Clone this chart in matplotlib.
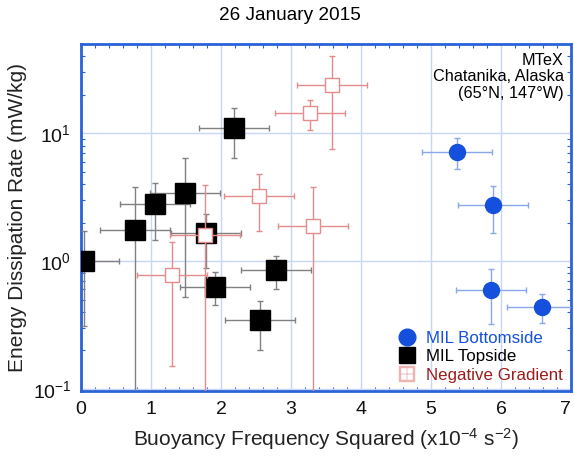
import numpy as np
import matplotlib.pyplot as plt
from matplotlib.lines import Line2D
from matplotlib.ticker import MultipleLocator, LogLocator, NullFormatter

plt.rcParams['font.family'] = ['Liberation Sans', 'DejaVu Sans']
plt.rcParams['mathtext.fontset'] = 'custom'
plt.rcParams['mathtext.rm'] = 'Liberation Sans'
plt.rcParams['mathtext.it'] = 'Liberation Sans'
plt.rcParams['mathtext.default'] = 'regular'

# MIL Bottomside
bot_x = [5.37, 5.88, 5.86, 6.59]
bot_y = [7.16, 2.73, 0.59, 0.44]
bot_ylo = [5.3, 1.66, 0.32, 0.33]
bot_yhi = [9.2, 3.85, 0.86, 0.555]

# MIL Topside
top_x = [0.05, 0.77, 1.06, 1.48, 1.79, 1.92, 2.79, 2.56, 2.18]
top_y = [1.0, 1.74, 2.78, 3.44, 1.65, 0.63, 0.845, 0.343, 11.0]
top_ylo = [0.31, 0.01, 1.47, 0.52, 0.89, 0.455, 0.61, 0.20, 6.43]
top_yhi = [1.72, 3.8, 4.09, 6.43, 2.35, 0.82, 1.09, 0.486, 15.7]

# Negative Gradient
neg_x = [3.58, 3.27, 2.54, 3.31, 1.77, 1.30]
neg_y = [23.9, 14.5, 3.22, 1.88, 1.6, 0.78]
neg_ylo = [7.6, 10.7, 1.72, 0.01, 0.01, 0.152]
neg_yhi = [40.3, 18.2, 4.76, 3.8, 3.97, 1.41]

xerr = 0.5

blue = '#1450dc'
blue_err = '#8aa6ec'
red = '#e48c8c'
dark_red = '#9b1c1c'
spine = '#2a62d8'
grid = '#c9d5f6'


def yerr(y, lo, hi):
    y = np.array(y)
    return [y - np.array(lo), np.array(hi) - y]


fig = plt.figure(figsize=(5.74, 4.58), dpi=100)
ax = fig.add_axes([0.141, 0.146, 0.854, 0.758])

ax.errorbar(top_x, top_y, xerr=xerr, yerr=yerr(top_y, top_ylo, top_yhi),
            fmt='s', ms=14, mfc='black', mec='black', ecolor='#808080',
            elinewidth=1, capsize=2.5, capthick=1, zorder=3)
ax.errorbar(neg_x, neg_y, xerr=xerr, yerr=yerr(neg_y, neg_ylo, neg_yhi),
            fmt='s', ms=9.5, mfc='white', mec=red, mew=1, ecolor=red,
            elinewidth=1, capsize=2.5, capthick=1, zorder=4)
ax.errorbar(bot_x, bot_y, xerr=xerr, yerr=yerr(bot_y, bot_ylo, bot_yhi),
            fmt='o', ms=11.5, mfc=blue, mec=blue, ecolor=blue_err,
            elinewidth=1, capsize=2.5, capthick=1, zorder=5)

ax.set_yscale('log')
ax.set_xlim(0, 7)
ax.set_ylim(0.096, 50)
ax.xaxis.set_major_locator(MultipleLocator(1))
ax.xaxis.set_minor_locator(MultipleLocator(0.2))
ax.yaxis.set_major_locator(LogLocator(base=10, numticks=10))
ax.yaxis.set_minor_locator(LogLocator(base=10, subs=np.arange(2, 10), numticks=10))
ax.yaxis.set_minor_formatter(NullFormatter())
ax.grid(True, which='major', color=grid, lw=1, zorder=0)
ax.set_axisbelow(True)

for s in ax.spines.values():
    s.set_color(spine)
    s.set_linewidth(2)
ax.tick_params(which='both', direction='in', color=spine, top=True, right=True,
               labelsize=14, pad=7, labelcolor='#111111')
ax.tick_params(which='major', length=0)
ax.tick_params(which='minor', length=3, width=0.8)

ax.set_xlabel('Buoyancy Frequency Squared (x10$^{-4}$ s$^{-2}$)', fontsize=15,
              color='#222222', labelpad=6)
ax.set_ylabel('Energy Dissipation Rate (mW/kg)', fontsize=15, color='#222222',
              labelpad=4)
fig.suptitle('26 January 2015', fontsize=13.7, x=0.505, y=0.985)

ax.text(0.985, 0.975, 'MTeX\nChatanika, Alaska\n(65°N, 147°W)', transform=ax.transAxes,
        ha='right', va='top', fontsize=11.7, linespacing=1.15)

handles = [
    Line2D([], [], ls='none', marker='o', ms=12, mfc=blue, mec=blue),
    Line2D([], [], ls='none', marker='s', ms=11, mfc='black', mec='black'),
    Line2D([], [], ls='none', marker='$\\boxplus$', ms=11, color='#eeb4b4', mew=0.3),
]
leg = ax.legend(handles, ['MIL Bottomside', 'MIL Topside', 'Negative Gradient'],
                loc='lower right', frameon=False, fontsize=12.2, handletextpad=0.5,
                labelspacing=0.2, borderaxespad=0.1, handlelength=1.2)
for t, c in zip(leg.get_texts(), [blue, 'black', dark_red]):
    t.set_color(c)

# keep the last x label ("7") inside the figure
fig.canvas.draw()
ax.xaxis.get_major_ticks()[-1].label1.set_horizontalalignment('right')
for tk in ax.xaxis.get_major_ticks():
    if tk.get_loc() == 7:
        tk.label1.set_horizontalalignment('right')

fig.savefig('out.png', dpi=100)
